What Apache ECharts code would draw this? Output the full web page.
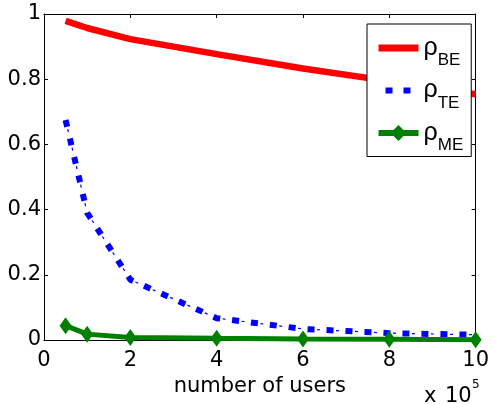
<!DOCTYPE html>
<html>
<head>
<meta charset="utf-8">
<script src="https://cdn.jsdelivr.net/npm/echarts@6/dist/echarts.min.js"></script>
<style>
  html, body { margin: 0; padding: 0; background: #fff; }
  #chart { width: 492px; height: 404px; }
</style>
</head>
<body>
<div id="chart"></div>
<script>
// number of users (x 10^5)
const users = [0.5, 1, 2, 4, 6, 8, 10];
const rhoBE = [0.979, 0.957, 0.923, 0.877, 0.833, 0.794, 0.754];
const rhoTE = [0.675, 0.39, 0.185, 0.067, 0.034, 0.021, 0.016];
const rhoME = [0.044, 0.018, 0.008, 0.005, 0.003, 0.002, 0.001];
const xTicks = [0, 2, 4, 6, 8, 10];
const yTicks = [0, 0.2, 0.4, 0.6, 0.8, 1];

const FONT = "'Liberation Sans', Arial, Helvetica, sans-serif";
const AXIS_FONT = "'DejaVu Sans', sans-serif";
const pairs = (ys) => users.map((x, i) => [x, ys[i]]);

const chart = echarts.init(document.getElementById("chart"));

// MATLAB style box: ticks inside on all four sides
const boxAxis = {
  axisLine: { show: true, onZero: false, lineStyle: { color: "#000", width: 1 } },
  axisTick: { show: true, inside: true, length: 4, lineStyle: { color: "#000" } },
  splitLine: { show: false }
};

chart.setOption({
  animation: false,
  backgroundColor: "#fff",
  grid: { left: 44, right: 13, top: 14, bottom: 64 },
  xAxis: [
    {
      ...boxAxis,
      type: "value",
      min: xTicks[0],
      max: xTicks[xTicks.length - 1],
      interval: 2,
      position: "bottom",
      name: "number of users",
      nameLocation: "middle",
      nameGap: 27,
      nameTextStyle: { color: "#000", fontSize: 21, fontFamily: AXIS_FONT },
      axisLabel: { color: "#000", fontSize: 21, fontFamily: AXIS_FONT, margin: 10 }
    },
    {
      ...boxAxis,
      type: "value",
      min: xTicks[0],
      max: xTicks[xTicks.length - 1],
      interval: 2,
      position: "top",
      axisLabel: { show: false }
    }
  ],
  yAxis: [
    {
      ...boxAxis,
      type: "value",
      min: yTicks[0],
      max: yTicks[yTicks.length - 1],
      interval: 0.2,
      position: "left",
      axisLabel: { color: "#000", fontSize: 21, fontFamily: AXIS_FONT, margin: 3, padding: [8, 0, 0, 0] }
    },
    {
      ...boxAxis,
      type: "value",
      min: yTicks[0],
      max: yTicks[yTicks.length - 1],
      interval: 0.2,
      position: "right",
      axisLabel: { show: false }
    }
  ],
  legend: {
    data: [
      { name: "BE", itemStyle: { opacity: 0 }, lineStyle: { width: 7 } },
      { name: "TE", itemStyle: { opacity: 0 }, lineStyle: { width: 6, type: [7, 11], dashOffset: -7 } },
      { name: "ME", lineStyle: { width: 6 } }
    ],
    orient: "vertical",
    left: 367,
    top: 24,
    backgroundColor: "#fff",
    borderColor: "#000",
    borderWidth: 1,
    borderRadius: 0,
    padding: [11.5, 8, 2.5, 8],
    itemWidth: 40,
    itemHeight: 20,
    itemGap: 9,
    itemTextGap: -4,
    formatter: (name) => "{r|ρ}{s|" + name + "}",
    textStyle: {
      color: "#000",
      fontFamily: FONT,
      rich: {
        r: { fontSize: 25, lineHeight: 42, fontFamily: FONT, color: "#000", verticalAlign: "middle" },
        s: { fontSize: 17, lineHeight: 17, fontFamily: FONT, color: "#000", verticalAlign: "bottom" }
      }
    }
  },
  graphic: [
    {
      type: "text",
      left: 424,
      top: 379,
      style: {
        text: "{x|x}{n|10}{b|5}",
        fontFamily: AXIS_FONT,
        fill: "#000",
        rich: {
          x: { fontSize: 21, fontFamily: AXIS_FONT, width: 21, padding: [11, 0, 0, 0] },
          n: { fontSize: 21, fontFamily: AXIS_FONT, width: 27, padding: [11, 0, 0, 0] },
          b: { fontSize: 12, fontFamily: AXIS_FONT, padding: [0, 0, 13, 0] }
        }
      }
    }
  ],
  series: [
    {
      name: "BE",
      type: "line",
      data: pairs(rhoBE),
      symbol: "none",
      lineStyle: { color: "#ff0000", width: 6.5 },
      itemStyle: { color: "#ff0000" },
      z: 3
    },
    {
      name: "TE-thin",
      type: "line",
      data: pairs(rhoTE),
      symbol: "none",
      lineStyle: { color: "#0000ff", width: 1.2, type: [3, 16], dashOffset: -9.5 },
      z: 2
    },
    {
      name: "TE",
      type: "line",
      data: pairs(rhoTE),
      symbol: "none",
      lineStyle: { color: "#0000ff", width: 6, type: [7, 12] },
      itemStyle: { color: "#0000ff" },
      z: 3
    },
    {
      name: "ME",
      type: "line",
      data: pairs(rhoME),
      symbol: "diamond",
      symbolSize: [12, 17],
      lineStyle: { color: "#008000", width: 5 },
      itemStyle: { color: "#008000" },
      z: 4
    }
  ]
});
</script>
</body>
</html>
